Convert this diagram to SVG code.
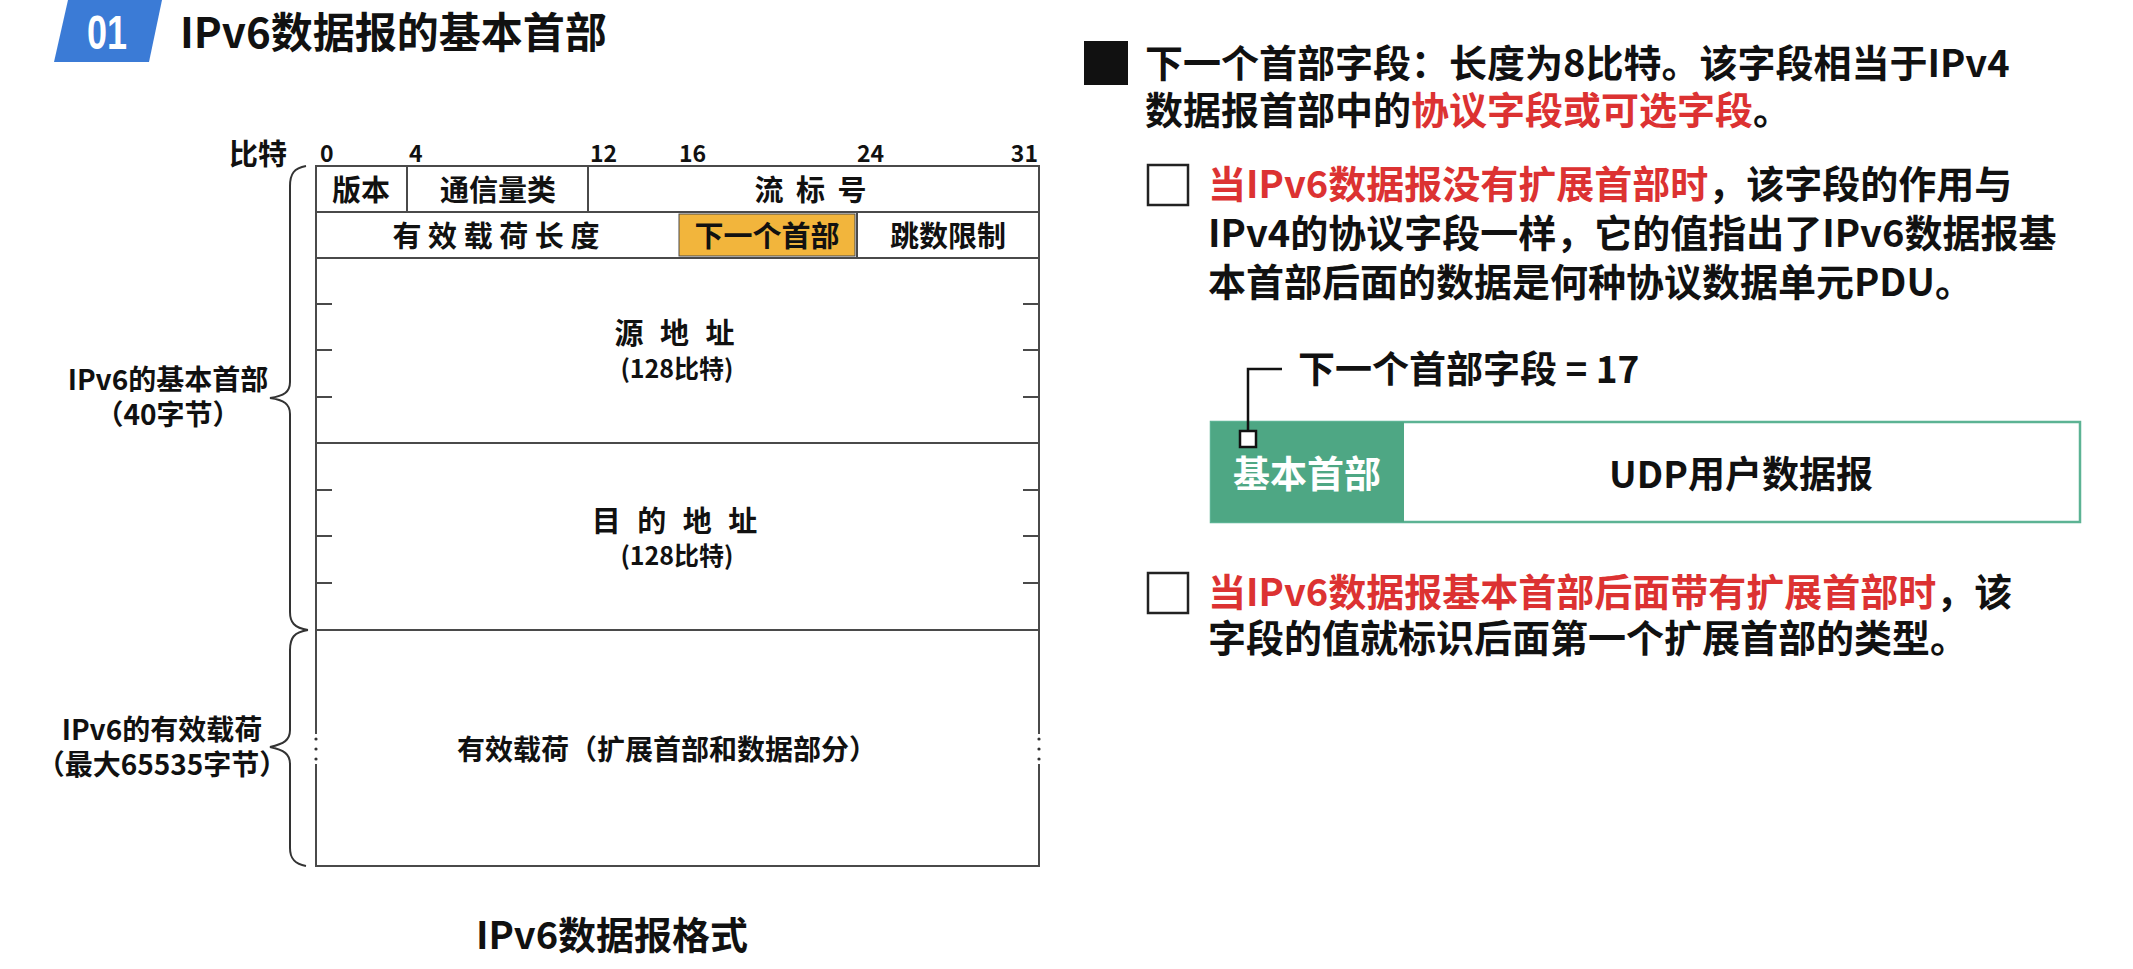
<svg xmlns="http://www.w3.org/2000/svg" width="2133" height="969" viewBox="0 0 2133 969">
<style>
text{font-family:"Noto Sans CJK SC","Liberation Sans",sans-serif;font-weight:700;fill:#111}
.c{text-anchor:middle}
.red{fill:#dc3232}
.cell{fill:#fff;stroke:#4a4a4a;stroke-width:2}
.ln{stroke:#4a4a4a;stroke-width:2;fill:none}
.br{stroke:#333;stroke-width:2;fill:none}
.chk{fill:#fff;stroke:#222;stroke-width:2.5}
.t29{font-size:29px}
.t25{font-size:25px}
.t28{font-size:28px}
.t38{font-size:38px}
.num{font-size:23px}
</style>
<rect width="2133" height="969" fill="#fff"/>
<g id="title">
<polygon points="68,0 162,0 149,62 54,62" fill="#3b7bd6"/>
<text x="107" y="49" class="c" style="font-family:'Liberation Sans',sans-serif;font-size:48px;fill:#fff" transform="translate(107 0) scale(0.75 1) translate(-107 0)">01</text>
<text x="180" y="48" style="font-size:42px">IPv6数据报的基本首部</text>
</g>
<g id="bits">
<text x="229" y="165" class="t29">比特</text>
<text x="320" y="162" class="num">0</text>
<text x="409" y="162" class="num">4</text>
<text x="590" y="162" class="num">12</text>
<text x="679" y="162" class="num">16</text>
<text x="857" y="162" class="num">24</text>
<text x="1038" y="162" class="num" style="text-anchor:end">31</text>
</g>
<g id="table">
<rect class="cell" x="316" y="166" width="723" height="700"/>
<line class="ln" x1="316" y1="212" x2="1039" y2="212"/>
<line class="ln" x1="316" y1="258" x2="1039" y2="258"/>
<line class="ln" x1="316" y1="443" x2="1039" y2="443"/>
<line class="ln" x1="316" y1="630" x2="1039" y2="630"/>
<line class="ln" x1="407" y1="166" x2="407" y2="212"/>
<line class="ln" x1="588" y1="166" x2="588" y2="212"/>
<line class="ln" x1="857" y1="212" x2="857" y2="258"/>
<rect x="679" y="214" width="176" height="42" fill="#f2b53c" stroke="#4a4a4a" stroke-width="1"/>
<path class="ln" d="M316,304h16M316,350h16M316,397h16M316,490h16M316,536h16M316,583h16M1039,304h-16M1039,350h-16M1039,397h-16M1039,490h-16M1039,536h-16M1039,583h-16"/>
<rect x="312" y="734" width="8" height="30" fill="#fff"/>
<rect x="1035" y="734" width="8" height="30" fill="#fff"/>
<g fill="#333"><circle cx="316" cy="739" r="1.6"/><circle cx="316" cy="749" r="1.6"/><circle cx="316" cy="759" r="1.6"/><circle cx="1039" cy="739" r="1.6"/><circle cx="1039" cy="749" r="1.6"/><circle cx="1039" cy="759" r="1.6"/></g>
<text x="361" y="201" class="c t29">版本</text>
<text x="498" y="201" class="c t29">通信量类</text>
<text x="812" y="201" class="c t29" style="letter-spacing:3px">流 标 号</text>
<text x="496" y="247" class="c t29">有 效 载 荷 长 度</text>
<text x="767" y="247" class="c t29">下一个首部</text>
<text x="948" y="247" class="c t29">跳数限制</text>
<text x="677" y="344" class="c t29" style="letter-spacing:5px">源 地 址</text>
<text x="677" y="378" class="c t25">(128比特)</text>
<text x="677" y="532" class="c t29" style="letter-spacing:5px">目 的 地 址</text>
<text x="677" y="565" class="c t25">(128比特)</text>
<text x="667" y="760" class="c t28">有效载荷（扩展首部和数据部分）</text>
</g>
<g id="braces">
<path class="br" d="M306,166 C294,168 290,174 290,186 L290,382 C290,392 284,396 270,398 C284,400 290,404 290,414 L290,612 C290,622 294,628 308,630"/>
<path class="br" d="M308,630 C294,632 290,638 290,650 L290,730 C290,740 284,744 270,747 C284,750 290,754 290,764 L290,848 C290,858 294,864 306,866"/>
<text x="168" y="390" class="c t28">IPv6的基本首部</text>
<text x="168" y="425" class="c t28">（40字节）</text>
<text x="162" y="740" class="c t28">IPv6的有效载荷</text>
<text x="162" y="775" class="c t28">（最大65535字节）</text>
</g>
<text id="caption" x="612" y="949" class="c" style="font-size:38px">IPv6数据报格式</text>
<g id="point1">
<rect x="1084" y="41" width="44" height="44" fill="#111"/>
<text x="1145" y="77" class="t38">下一个首部字段：长度为8比特。该字段相当于IPv4</text>
<text x="1145" y="124" class="t38">数据报首部中的<tspan class="red">协议字段或可选字段</tspan>。</text>
</g>
<g id="point2">
<rect class="chk" x="1148" y="165" width="40" height="40"/>
<text x="1208" y="198" class="t38"><tspan class="red">当IPv6数据报没有扩展首部时</tspan>，该字段的作用与</text>
<text x="1208" y="247" class="t38">IPv4的协议字段一样，它的值指出了IPv6数据报基</text>
<text x="1208" y="296" class="t38">本首部后面的数据是何种协议数据单元PDU。</text>
</g>
<g id="udp">
<rect x="1211" y="422" width="869" height="100" fill="#fff" stroke="#5cb394" stroke-width="2.5"/>
<rect x="1211" y="422" width="193" height="100" fill="#4ea784"/>
<text x="1307" y="488" class="c" style="font-size:37px;fill:#fff">基本首部</text>
<text x="1741" y="488" class="c" style="font-size:37px">UDP用户数据报</text>
</g>
<g id="connectors">
<path d="M1248,432 V369 H1282" fill="none" stroke="#111" stroke-width="2.5"/>
<rect x="1240" y="431" width="16" height="16" fill="#fff" stroke="#111" stroke-width="2.5"/>
</g>
<text x="1298" y="383" style="font-size:37px">下一个首部字段 = 17</text>
<g id="point3">
<rect class="chk" x="1148" y="573" width="40" height="40"/>
<text x="1208" y="606" class="t38"><tspan class="red">当IPv6数据报基本首部后面带有扩展首部时</tspan>，该</text>
<text x="1208" y="652" class="t38">字段的值就标识后面第一个扩展首部的类型。</text>
</g>
</svg>
